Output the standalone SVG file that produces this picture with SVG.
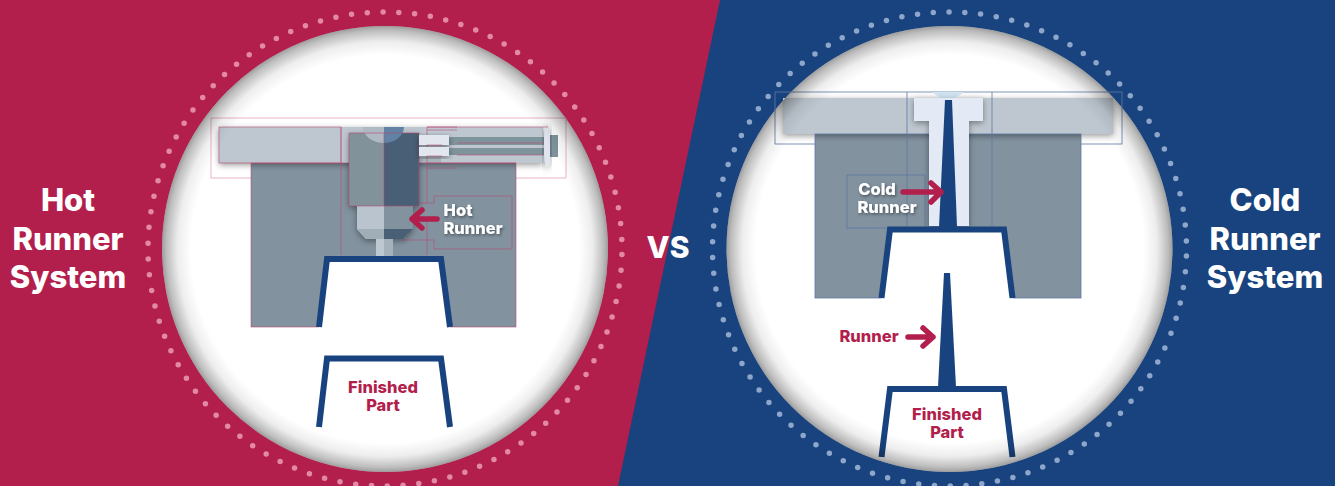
<svg xmlns="http://www.w3.org/2000/svg" width="1335" height="486" viewBox="0 0 1335 486">
<style>
text{font-family:"Inter","Liberation Sans",sans-serif;font-weight:800;text-anchor:middle}
.head{font-size:31px;fill:#fff}
.vs{font-size:30px;fill:#fff}
.lab{font-size:16.5px;fill:#B21F4D}
.wl{font-size:16.5px;fill:#fff;filter:url(#ts)}
.body{fill:#82929F}
.plate{fill:#BEC7D0}
.pl{fill:none;stroke:#B8476F;stroke-width:.8;opacity:.7}
.pll{fill:none;stroke:#D98BA6;stroke-width:.8;opacity:.8}
.bl{fill:none;stroke:#5C78A3;stroke-width:.8}
.white{fill:#fff}
.partn{fill:none;stroke:#18437E;stroke-width:6;stroke-miterlimit:10}
.blue{fill:#18437E}
.arrow{fill:none;stroke:#B21F4D;stroke-width:5.500;stroke-linecap:round;stroke-linejoin:round}
.dots{fill:none;stroke-width:5.500;stroke-linecap:round}
.vig{fill:url(#vig)}
</style>
<defs>
<radialGradient id="vig" cx=".5" cy=".5" r=".5">
<stop offset="0" stop-color="#000" stop-opacity="0"/><stop offset=".87" stop-color="#000" stop-opacity="0"/><stop offset=".93" stop-color="#000" stop-opacity=".07"/><stop offset=".98" stop-color="#000" stop-opacity=".26"/><stop offset="1" stop-color="#000" stop-opacity=".38"/>
</radialGradient>
<filter id="sh" x="-20%" y="-20%" width="140%" height="150%"><feDropShadow dx="0" dy="2" stdDeviation="3" flood-color="#000" flood-opacity=".4"/></filter>
<filter id="ts" x="-20%" y="-30%" width="140%" height="170%"><feDropShadow dx="1" dy="1.500" stdDeviation="1.500" flood-color="#000" flood-opacity=".45"/></filter>
</defs>
<g id="background">
<rect width="1335" height="486" fill="#B21F4D"/>
<polygon points="720,0 1335,0 1335,486 618,486" fill="#18437E"/>
</g>
<g id="hot-disc">
<circle class="dots" cx="385" cy="249" r="237" stroke="#E389A8" stroke-dasharray="0 15.842" stroke-dashoffset="-5.500"/>
<circle class="white" cx="385" cy="249" r="223"/>
</g>
<g id="cold-disc">
<circle class="dots" cx="949.500" cy="249" r="237" stroke="#8FA6CB" stroke-dasharray="0 15.842" stroke-dashoffset="-7"/>
<circle class="white" cx="949.500" cy="249" r="223"/>
</g>
<g id="hot-mold">
<rect class="pll" x="211" y="118" width="355" height="60"/>
<rect class="body" x="251" y="163" width="265" height="164"/>
<rect class="plate" x="219" y="127" width="324" height="36" filter="url(#sh)"/>
<rect x="419" y="157" width="22" height="6" fill="#A9B3BD"/>
<rect class="pl" x="219" y="127" width="122" height="36"/>
<rect class="pl" x="251" y="163" width="265" height="164"/>
<path class="pl" d="M341,127V255M427,255V222M427,203V127H457M427,168H457M427,163H516M434,196H512V249H434V240H427M434,196V203H427M402,203H427M402,240H427"/>
</g>
<g id="hot-nozzle">
<g filter="url(#sh)">
<rect x="349" y="133" width="35" height="73" fill="#82929B"/>
<rect x="384" y="133" width="35" height="73" fill="#4A5F75"/>
<polygon points="357,206 384,206 384,239 366,239 357,229" fill="#BAC4CE"/>
<polygon points="384,206 413,206 413,229 403,239 384,239" fill="#82929F"/>
<polygon points="357,229 384,229 384,239 366,239" fill="#A0AEB8"/>
<polygon points="384,229 413,229 403,239 384,239" fill="#4A5F75"/>
</g>
<path d="M363,127H384V143A21,16 0 0 1 363,127Z" fill="#AEB9C4"/>
<path d="M384,127H404A20,16 0 0 1 384,143Z" fill="#5F82A5"/>
<rect x="376" y="239" width="8" height="17" fill="#BEC8D0"/>
<rect x="384" y="239" width="9" height="17" fill="#A5B1BB"/>
<rect class="pl" x="349" y="133" width="70" height="73"/>
<path class="pl" d="M384,133V206"/>
</g>
<g id="hot-cartridges">
<rect x="449" y="137" width="95" height="8" fill="#7E939B"/>
<rect x="449" y="148" width="95" height="7" fill="#7E939B"/>
<rect x="419" y="135" width="30" height="10" fill="#E2E7EF" filter="url(#sh)"/>
<rect x="419" y="147" width="30" height="9" fill="#E2E7EF" filter="url(#sh)"/>
<rect x="550" y="135" width="8" height="22" fill="#7E939B"/>
<path d="M546,124Q550,126 550,132V160Q550,165 546,167Q544,160 544,146Q544,130 546,124Z" fill="#E0E4EE" filter="url(#sh)"/>
<path class="pl" d="M427,127H548M427,145H442M427,156H442M457,143H544M457,155H544M427,130H457"/>
</g>
<g id="hot-part">
<polygon class="white" points="319,328 327,259 441,259 450,328"/>
<path class="partn" d="M319,327L327,259H441L450,327"/>
</g>
<g id="hot-finished">
<path class="partn" d="M319,427L327,358.500H441L450,427"/>
</g>
<g id="cold-mold">
<rect class="bl" x="775" y="92" width="347" height="52"/>
<rect class="body" x="815" y="134" width="266" height="164"/>
<rect class="plate" x="783" y="98" width="330" height="36" filter="url(#sh)"/>
<rect class="bl" x="815" y="134" width="266" height="164"/>
<path class="bl" d="M907,92V226M992,92V226"/>
<rect class="bl" x="847" y="175" width="78" height="53"/>
</g>
<g id="cold-sprue">
<path d="M932,92H964Q956,99 948,99Q940,99 932,92Z" fill="#CFE3F0"/>
<path d="M914,98H983V121H969V226H929V121H914Z" fill="#E3E9F5" filter="url(#sh)"/>
<polygon points="945,100 952,100 957,227 939,227" class="blue"/>
</g>
<g id="cold-part">
<polygon class="white" points="881.500,299 890,229.500 1004,229.500 1012.500,299"/>
<path class="partn" d="M881.500,298L890,229.500H1004L1012.500,298"/>
</g>
<g id="cold-finished">
<polygon points="944,273 950,273 956,387 938,387" class="blue"/>
<path class="partn" d="M881.500,457L890,389H1004L1012.500,457"/>
</g>
<g id="vignettes">
<circle class="vig" cx="385" cy="249" r="223"/>
<circle class="vig" cx="949.500" cy="249" r="223"/>
</g>
<g id="labels">
<text class="wl" x="458" y="215.500">Hot</text>
<text class="wl" x="473" y="233.500">Runner</text>
<text class="lab" x="383" y="393">Finished</text>
<text class="lab" x="383" y="411">Part</text>
<text class="wl" x="877" y="195">Cold</text>
<text class="wl" x="887" y="213">Runner</text>
<text class="lab" x="869" y="342">Runner</text>
<text class="lab" x="947" y="419.500">Finished</text>
<text class="lab" x="947" y="437.500">Part</text>
</g>
<g id="connectors">
<path class="arrow" d="M437,219H412M422,210L412,219L422,228"/>
<path class="arrow" d="M903,192H941M931,183L941,192L931,202"/>
<path class="arrow" d="M908,337H933M923,328L933,337L923,346"/>
</g>
<g id="titles">
<text class="head" x="68" y="211">Hot</text>
<text class="head" x="68" y="250">Runner</text>
<text class="head" x="68" y="288">System</text>
<text class="head" x="1265" y="211">Cold</text>
<text class="head" x="1265" y="250">Runner</text>
<text class="head" x="1265" y="288">System</text>
<text class="vs" x="668" y="258">VS</text>
</g>
</svg>
